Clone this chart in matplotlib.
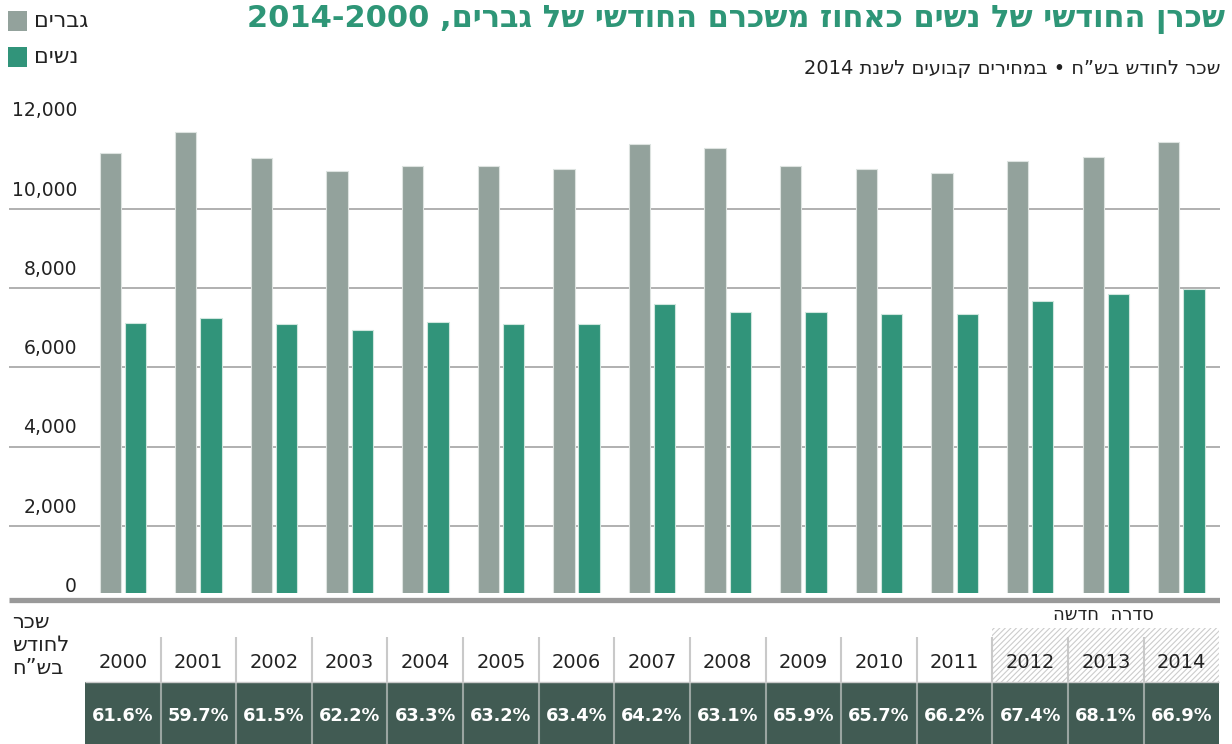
import re
import numpy as np
import matplotlib
matplotlib.use('Agg')
import matplotlib.pyplot as plt
from matplotlib.patches import Rectangle

# data (monthly wage, NIS, 2014 prices)
years = ['2000', '2001', '2002', '2003', '2004', '2005', '2006', '2007',
         '2008', '2009', '2010', '2011', '2012', '2013', '2014']
men = [11420, 11950, 11290, 10960, 11090, 11090, 11000, 11630,
       11530, 11090, 11000, 10920, 11200, 11320, 11680]
women = [7130, 7250, 7100, 6940, 7140, 7090, 7090, 7600,
         7390, 7390, 7350, 7350, 7680, 7850, 7980]
ratio = ['61.6%', '59.7%', '61.5%', '62.2%', '63.3%', '63.2%', '63.4%', '64.2%',
         '63.1%', '65.9%', '65.7%', '66.2%', '67.4%', '68.1%', '66.9%']
yticks = [0, 2000, 4000, 6000, 8000, 10000, 12000]

title = 'שכרן החודשי של נשים כאחוז משכרם החודשי של גברים, 2014-2000'
subtitle = 'שכר לחודש בש”ח • במחירים קבועים לשנת 2014'
legend_men = 'גברים'
legend_women = 'נשים'
new_series = 'סדרה  חדשה'
row_label = ['שכר', 'לחודש', 'בש”ח']

GRAY = '#93a29c'
GREEN = '#31947a'
DARK = '#415b53'
TITLE_GREEN = '#2e9677'
TEXT = '#222222'

plt.rcParams['font.family'] = ['DejaVu Sans']


def rtl(s):
    # matplotlib has no bidi support: flip the string, keep number runs LTR
    s = s[::-1]
    return re.sub(r'\d[\d.,\-]*\d|\d', lambda m: m.group(0)[::-1], s)


W, H = 1232, 744
fig = plt.figure(figsize=(W / 100, H / 100), dpi=100)


def fx(px):
    return px / W


def fy(py):
    return 1 - py / H


# main bar chart
ax = fig.add_axes([fx(9), fy(593), fx(1220) - fx(9), fy(100) - fy(593)])
x = np.arange(len(years))
ax.bar(x - 0.167, men, 0.282, color=GRAY, edgecolor='#dde3e0', linewidth=0.8, zorder=2)
ax.bar(x + 0.167, women, 0.282, color=GREEN, edgecolor='#cfe6de', linewidth=0.8, zorder=2)
ax.set_xlim(-1.505, 14.51)
ax.set_ylim(303, 12751)
for v in yticks[1:-1]:
    ax.axhline(v, color='#b0b0b0', lw=1.4, zorder=1)
ax.axis('off')
for v in yticks:
    ax.annotate(f'{v:,}', xy=(0.0562, v), xycoords=ax.get_yaxis_transform(),
                xytext=(0, 13.5), textcoords='offset points', ha='right', va='center',
                fontsize=13.5, color=TEXT, annotation_clip=False)

# table below
tax = fig.add_axes([fx(9), 0, fx(1220) - fx(9), fy(594)])
tax.set_xlim(-1.505, 14.51)
tax.set_ylim(744, 594)
tax.axis('off')
tax.plot([-1.505, 14.51], [599.5, 599.5], lw=3.8, color='#999999', solid_capstyle='butt')

plt.rcParams['hatch.linewidth'] = 0.8
tax.add_patch(Rectangle((11.5, 628), 3, 54, facecolor='none', edgecolor='#cccccc',
                        hatch='//////', lw=0))
tax.vlines(np.arange(0.5, 14), 637, 682, color='#c9c9c9', lw=1.5)
tax.add_patch(Rectangle((-0.5, 682), 15, 62, color=DARK, lw=0))
tax.vlines(np.arange(0.5, 14), 682, 744, color='#9aa5a1', lw=1.5)
tax.hlines(682, -0.5, 14.5, color='#c9c9c9', lw=1)

for i, (yr, r) in enumerate(zip(years, ratio)):
    tax.text(i, 662, yr, ha='center', va='center', fontsize=14, color=TEXT)
    tax.text(i, 716, r, ha='center', va='center', fontsize=12.8, color='white',
             fontweight='bold')

tax.text(12.97, 615, rtl(new_series), ha='center', va='center', fontsize=13, color=TEXT)
for line, py in zip(row_label, [622, 645, 668]):
    tax.text(-1.466, py, rtl(line), ha='left', va='center', fontsize=15, color=TEXT)

# titles
fig.text(fx(1225), fy(20), rtl(title), ha='right', va='center', fontsize=22,
         fontweight='bold', color=TITLE_GREEN)
fig.text(fx(1220), fy(68), rtl(subtitle), ha='right', va='center', fontsize=14, color=TEXT)

# legend
fig.add_artist(Rectangle((fx(8), fy(31)), fx(19), 20 / H, transform=fig.transFigure,
                         color=GRAY, lw=0))
fig.add_artist(Rectangle((fx(8), fy(67)), fx(19), 20 / H, transform=fig.transFigure,
                         color=GREEN, lw=0))
fig.text(fx(34), fy(21), rtl(legend_men), ha='left', va='center', fontsize=16, color=TEXT)
fig.text(fx(34), fy(57), rtl(legend_women), ha='left', va='center', fontsize=16, color=TEXT)

fig.savefig('out.png', dpi=100)
